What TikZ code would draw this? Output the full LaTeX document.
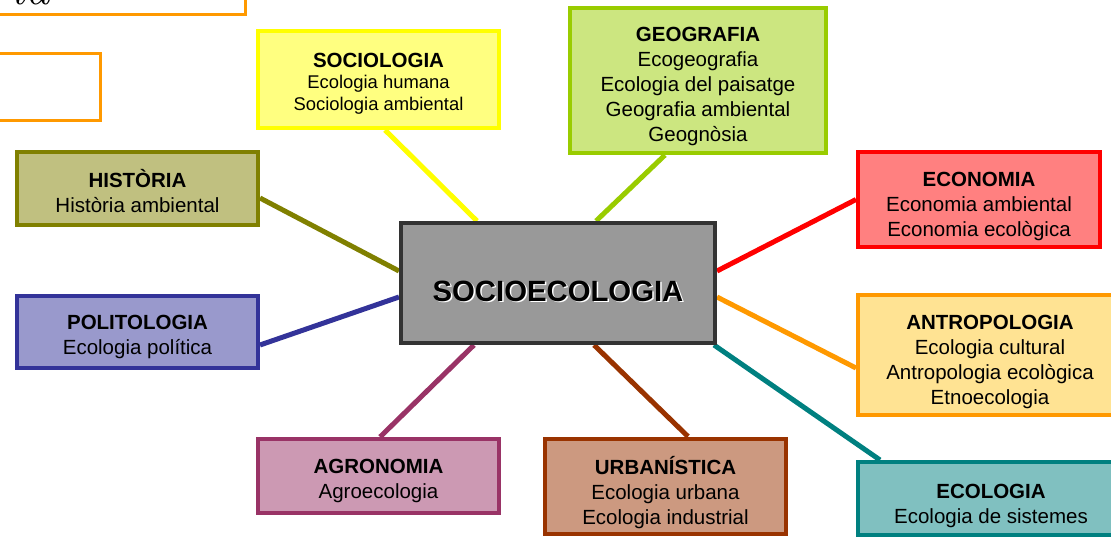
\documentclass[tikz,border=0pt]{standalone}
\usepackage{fontspec}
\setsansfont{Liberation Sans}
\usetikzlibrary{backgrounds}
\definecolor{socline}{HTML}{FFFF00}\definecolor{socfill}{HTML}{FFFF80}
\definecolor{geoline}{HTML}{99CC00}\definecolor{geofill}{HTML}{CCE680}
\definecolor{histline}{HTML}{808000}\definecolor{histfill}{HTML}{C0C080}
\definecolor{ecoline}{HTML}{FF0000}\definecolor{ecofill}{HTML}{FF8080}
\definecolor{polline}{HTML}{333399}\definecolor{polfill}{HTML}{9999CC}
\definecolor{antline}{HTML}{FF9900}\definecolor{antfill}{HTML}{FFE393}
\definecolor{agrline}{HTML}{993366}\definecolor{agrfill}{HTML}{CC99B3}
\definecolor{urbline}{HTML}{993300}\definecolor{urbfill}{HTML}{CC9980}
\definecolor{ecolline}{HTML}{008080}\definecolor{ecolfill}{HTML}{80C0C0}
\definecolor{midline}{HTML}{333333}\definecolor{midfill}{HTML}{999999}
\newcommand{\fieldtop}[1][27]{\rule{0pt}{#1pt}}
\tikzset{
  field/.style 2 args={draw=#1, fill=#2, line width=4pt, align=center,
    inner sep=0pt, font=\sffamily\fontsize{20.5}{25}\selectfont},
  link/.style={line width=5pt},
  midtext/.style={font=\sffamily\bfseries\fontsize{29.3}{34}\selectfont}
}

\begin{document}
\begin{tikzpicture}[
  x=1pt,
  y=-1pt
]
\useasboundingbox (0,0) rectangle (1111,536);
\clip (0,0) rectangle (1111,536);

% cut-off boxes at the top left
\draw [antline, line width=3pt, fill=white] (-20,-60) rectangle (245,14);
\node [anchor=base east, font=\fontsize{50}{60}\selectfont\itshape] (frag) at (54,4) {ia};
\draw [antline, line width=3pt, fill=white] (-20,53) rectangle (100,120);

% fields
\node [field={socline}{socfill}, minimum width=241pt, minimum height=97pt,
       font=\sffamily\fontsize{18.4}{21.5}\selectfont] (soc) at (378.5,79.5)
  {\fieldtop[22]\textbf{\fontsize{20.5}{25}\selectfont SOCIOLOGIA}\\Ecologia humana\\Sociologia ambiental};
\node [field={geoline}{geofill}, minimum width=256pt, minimum height=145pt] (geo) at (698,80.5)
  {\fieldtop\textbf{GEOGRAFIA}\\Ecogeografia\\Ecologia del paisatge\\Geografia ambiental\\Geognòsia};
\node [field={histline}{histfill}, minimum width=241pt, minimum height=73pt] (hist) at (137.5,188.5)
  {\fieldtop[23]\textbf{HISTÒRIA}\\Història ambiental};
\node [field={ecoline}{ecofill}, minimum width=242pt, minimum height=95pt] (eco) at (979,199.5)
  {\fieldtop[29]\textbf{ECONOMIA}\\Economia ambiental\\Economia ecològica};
\node [field={polline}{polfill}, minimum width=241pt, minimum height=72pt] (pol) at (137.5,332)
  {\fieldtop[25]\textbf{POLITOLOGIA}\\Ecologia política};
\node [field={antline}{antfill}, minimum width=264pt, minimum height=120pt] (antro) at (990,355)
  {\fieldtop[29]\textbf{ANTROPOLOGIA}\\Ecologia cultural\\Antropologia ecològica\\Etnoecologia};
\node [field={agrline}{agrfill}, minimum width=241pt, minimum height=74pt] (agro) at (378.5,476)
  {\fieldtop[25]\textbf{AGRONOMIA}\\Agroecologia};
\node [field={urbline}{urbfill}, minimum width=241pt, minimum height=95pt] (urb) at (665.5,486)
  {\fieldtop[31]\textbf{URBANÍSTICA}\\Ecologia urbana\\Ecologia industrial};
\node [field={ecolline}{ecolfill}, minimum width=266pt, minimum height=73pt] (ecol) at (991,498.5)
  {\fieldtop[29]\textbf{ECOLOGIA}\\Ecologia de sistemes};

% centre
\node [field={midline}{midfill}, minimum width=314pt, minimum height=120pt] (centre) at (558,283) {};
\node [midtext, white] (shade) at ([shift={(1.5pt,-9.5pt)}]centre.center) {SOCIOECOLOGIA};
\node [midtext] (title) at ([yshift=-8pt]centre.center) {SOCIOECOLOGIA};

% links
\begin{scope}[on background layer]
  \draw [link, socline]  ([xshift=6.5pt]soc.south)   -- ([xshift=-81pt]centre.north);
  \draw [link, geoline]  ([xshift=-33pt]geo.south)   -- ([xshift=38pt]centre.north);
  \draw [link, histline] ([yshift=-9.5pt]hist.east)  -- ([yshift=12pt]centre.west);
  \draw [link, polline]  ([yshift=-13pt]pol.east)    -- ([yshift=-14pt]centre.west);
  \draw [link, agrline]  ([xshift=1.5pt]agro.north)  -- ([xshift=-84pt]centre.south);
  \draw [link, urbline]  ([xshift=22.5pt]urb.north)  -- ([xshift=36pt]centre.south);
  \draw [link, ecoline]  (eco.west)                  -- ([yshift=12pt]centre.east);
  \draw [link, antline]  ([yshift=-13pt]antro.west)  -- ([yshift=-14pt]centre.east);
  \draw [link, ecolline] ([xshift=-111pt]ecol.north) -- ([xshift=-3pt]centre.south east);
\end{scope}

\end{tikzpicture}
\end{document}
